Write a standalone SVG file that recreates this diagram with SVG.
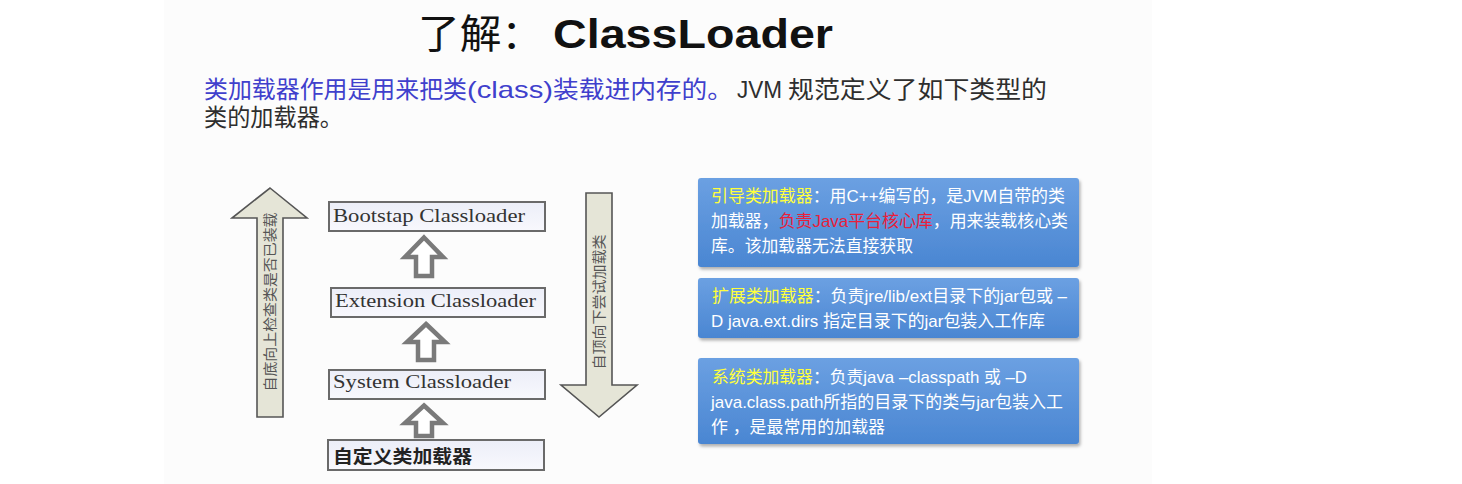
<svg xmlns="http://www.w3.org/2000/svg" width="1462" height="484" viewBox="0 0 1462 484">
  <defs>
    <linearGradient id="blueGrad" x1="0" y1="0" x2="0" y2="1">
      <stop offset="0" stop-color="#6ba0e2"/>
      <stop offset="1" stop-color="#4a86d2"/>
    </linearGradient>
    <linearGradient id="boxGrad" x1="0" y1="0" x2="0" y2="1">
      <stop offset="0" stop-color="#eceef8"/>
      <stop offset="1" stop-color="#f8f8fd"/>
    </linearGradient>
    <filter id="shadow" x="-5%" y="-10%" width="110%" height="130%">
      <feDropShadow dx="1.5" dy="2.5" stdDeviation="1.8" flood-color="#000" flood-opacity="0.3"/>
    </filter>
  </defs>
  <style>
    .title-cjk { font-family: "Noto Sans CJK SC", sans-serif; font-size: 40px; fill: #111; }
    .title-lat { font-family: "Liberation Sans", Arial, sans-serif; font-size: 40px; font-weight: bold; fill: #111; }
    .sub { font-family: "Liberation Sans", "Noto Sans CJK SC", sans-serif; font-size: 24px; }
    .blue { fill: #4040cc; }
    .dark { fill: #2e2e2e; }
    .box { fill: url(#boxGrad); stroke: #6a6a6a; stroke-width: 2; }
    .boxtxt { font-family: "Liberation Serif", "Times New Roman", serif; font-size: 19px; fill: #333; }
    .cjkbold { font-family: "Noto Sans CJK SC", sans-serif; font-size: 18px; font-weight: bold; fill: #222; }
    .bigarrow { fill: #e5e5d7; stroke: #555; stroke-width: 1.6; }
    .vtxt { font-family: "Noto Sans CJK SC", sans-serif; font-size: 14px; fill: #555; }
    .hollow { fill: #ffffff; stroke: #7a7a7a; stroke-width: 4.5; stroke-linejoin: miter; }
    .panel { fill: url(#blueGrad); filter: url(#shadow); }
    .pt { font-family: "Liberation Sans", "Noto Sans CJK SC", sans-serif; font-size: 17px; fill: #ffffff; }
    .y { fill: #ffff3c; }
    .r { fill: #e8203a; }
  </style>

  <rect x="0" y="0" width="1462" height="484" fill="#ffffff"/>
  <rect x="164" y="0" width="988" height="484" fill="#fcfcfc"/>

  <g id="title">
    <text x="418" y="48" class="title-cjk" textLength="125" lengthAdjust="spacingAndGlyphs">了解：</text>
    <text x="553" y="48" class="title-lat" textLength="280" lengthAdjust="spacingAndGlyphs">ClassLoader</text>
  </g>

  <g id="subtitle">
    <text x="204" y="98" class="sub blue" textLength="263" lengthAdjust="spacingAndGlyphs">类加载器作用是用来把类</text>
    <text x="467" y="98" class="sub blue" textLength="86" lengthAdjust="spacingAndGlyphs">(class)</text>
    <text x="553" y="98" class="sub blue" textLength="180" lengthAdjust="spacingAndGlyphs">装载进内存的。</text>
    <text x="737" y="98" class="sub dark" textLength="45" lengthAdjust="spacingAndGlyphs">JVM</text>
    <text x="788" y="98" class="sub dark" textLength="259" lengthAdjust="spacingAndGlyphs">规范定义了如下类型的</text>
    <text x="204" y="126" class="sub dark" textLength="139" lengthAdjust="spacingAndGlyphs">类的加载器。</text>
  </g>

  <g id="arrow-up-check">
    <path class="bigarrow" d="M270,188 L307,218 L283,218 L283,417 L257,417 L257,218 L232,218 Z"/>
    <text class="vtxt" transform="translate(269,302) rotate(-90)" text-anchor="middle" dominant-baseline="central" textLength="179" lengthAdjust="spacingAndGlyphs">自底向上检查类是否已装载</text>
  </g>

  <g id="arrow-down-load">
    <path class="bigarrow" d="M586,193 L612,193 L612,385 L637,385 L599,417 L561,385 L586,385 Z"/>
    <text class="vtxt" transform="translate(598,302) rotate(-90)" text-anchor="middle" dominant-baseline="central" textLength="135" lengthAdjust="spacingAndGlyphs">自顶向下尝试加载类</text>
  </g>

  <g id="bootstrap">
    <rect class="box" x="329" y="202" width="216" height="29"/>
    <text class="boxtxt" x="333" y="222" textLength="192" lengthAdjust="spacingAndGlyphs">Bootstap Classloader</text>
  </g>

  <g id="extension">
    <rect class="box" x="331" y="288" width="214" height="29"/>
    <text class="boxtxt" x="335" y="307" textLength="201" lengthAdjust="spacingAndGlyphs">Extension Classloader</text>
  </g>

  <g id="system">
    <rect class="box" x="329" y="370" width="216" height="29"/>
    <text class="boxtxt" x="333" y="388" textLength="178" lengthAdjust="spacingAndGlyphs">System Classloader</text>
  </g>

  <g id="custom">
    <rect class="box" x="328" y="440" width="216" height="30"/>
    <text class="cjkbold" x="333" y="463" textLength="139" lengthAdjust="spacingAndGlyphs">自定义类加载器</text>
  </g>

  <g id="connectors">
    <path class="hollow" d="M424,237.5 L443,257 L432,257 L432,276 L416,276 L416,257 L405,257 Z"/>
    <path class="hollow" d="M426,324 L445,342 L434,342 L434,360 L418,360 L418,342 L407,342 Z"/>
    <path class="hollow" d="M424,405.5 L443,423 L432,423 L432,436 L416,436 L416,423 L405,423 Z"/>
  </g>

  <g id="panel-bootstrap">
    <rect class="panel" x="698" y="178" width="381" height="89" rx="3"/>
    <text class="pt" x="711" y="202" textLength="354" lengthAdjust="spacingAndGlyphs"><tspan class="y">引导类加载器</tspan>：用C++编写的，是JVM自带的类</text>
    <text class="pt" x="711" y="227" textLength="357" lengthAdjust="spacingAndGlyphs">加载器，<tspan class="r">负责Java平台核心库</tspan>，用来装载核心类</text>
    <text class="pt" x="711" y="252" textLength="202" lengthAdjust="spacingAndGlyphs">库。该加载器无法直接获取</text>
  </g>

  <g id="panel-extension">
    <rect class="panel" x="698" y="278" width="381" height="60" rx="3"/>
    <text class="pt" x="712" y="302" textLength="355" lengthAdjust="spacingAndGlyphs"><tspan class="y">扩展类加载器</tspan>：负责jre/lib/ext目录下的jar包或 –</text>
    <text class="pt" x="711" y="327" textLength="334" lengthAdjust="spacingAndGlyphs">D java.ext.dirs 指定目录下的jar包装入工作库</text>
  </g>

  <g id="panel-system">
    <rect class="panel" x="698" y="358" width="381" height="86" rx="3"/>
    <text class="pt" x="712" y="383" textLength="315" lengthAdjust="spacingAndGlyphs"><tspan class="y">系统类加载器</tspan>：负责java –classpath 或 –D</text>
    <text class="pt" x="711" y="408" textLength="352" lengthAdjust="spacingAndGlyphs">java.class.path所指的目录下的类与jar包装入工</text>
    <text class="pt" x="711" y="433" textLength="174" lengthAdjust="spacingAndGlyphs">作 ，是最常用的加载器</text>
  </g>
</svg>
